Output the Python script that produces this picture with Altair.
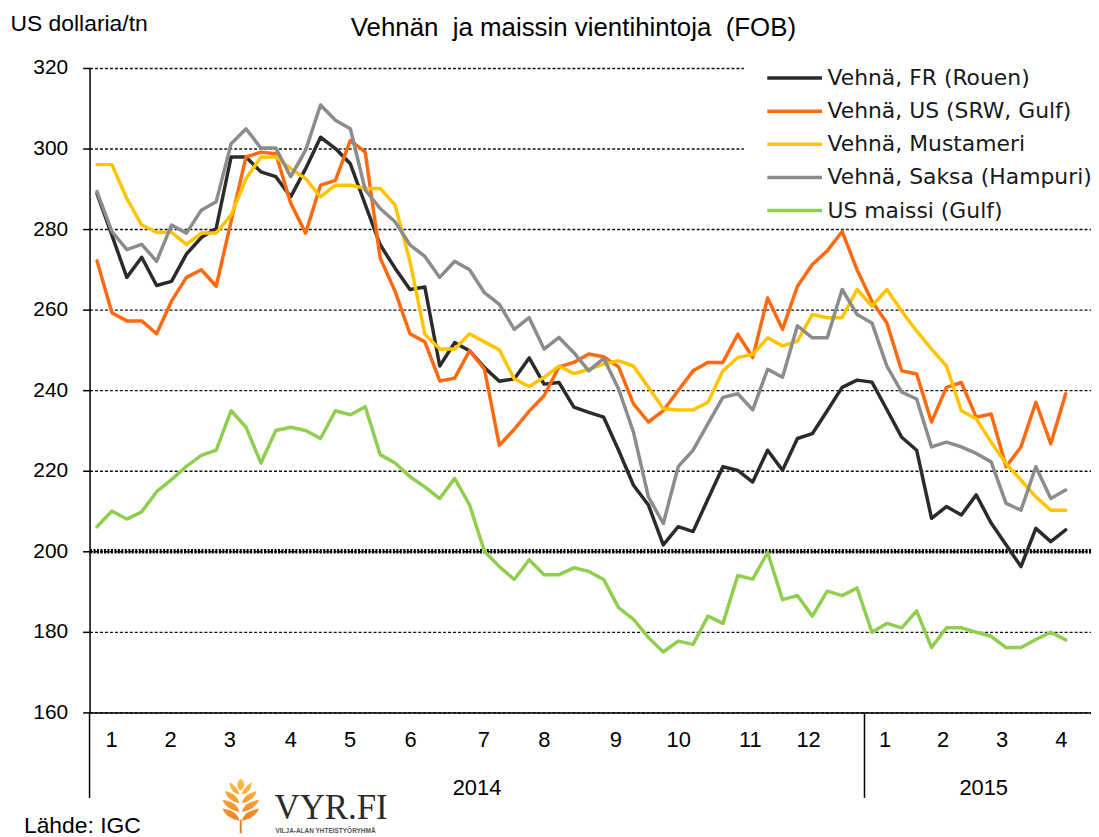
import altair as alt
import pandas as pd

# ---------------- data (weekly, Jan 2014 - Apr 2015) ----------------
weeks = list(range(66))

fr_rouen = [288.8, 278.5, 268.0, 273.0, 266.0, 267.0, 273.8, 277.9, 280.2, 297.9,
            297.9, 294.2, 293.0, 288.0, 295.0, 302.8, 300.0, 296.2, 286.1, 276.1,
            270.3, 265.0, 265.6, 246.0, 251.8, 249.8, 245.6, 242.2, 242.8, 248.0,
            241.5, 241.9, 235.8, 234.5, 233.3, 225.1, 216.4, 211.5, 201.6, 206.1,
            204.9, 213.0, 221.0, 220.1, 217.2, 225.1, 220.1, 228.0, 229.2, 234.9,
            240.7, 242.5, 242.0, 235.2, 228.3, 225.1, 208.2, 211.1, 209.0, 214.0,
            207.0, 201.6, 196.2, 205.7, 202.4, 205.3]
us_srw = [272.1, 259.2, 257.2, 257.2, 254.0, 262.1, 268.0, 269.9, 265.8, 282.0,
          297.9, 299.1, 298.7, 286.4, 279.0, 290.9, 292.1, 302.0, 299.1, 272.8,
          264.6, 254.0, 252.0, 242.3, 243.0, 249.8, 245.2, 226.3, 230.3, 234.8,
          238.6, 245.8, 246.9, 249.0, 248.3, 245.8, 236.6, 232.1, 234.9, 239.9,
          244.8, 246.9, 246.9, 253.9, 248.1, 262.9, 255.1, 265.8, 271.2, 274.6,
          279.4, 269.9, 262.1, 256.7, 244.8, 244.0, 232.1, 240.7, 241.9, 233.3,
          234.1, 221.0, 225.9, 237.0, 226.7, 239.1]
mustameri = [296.0, 296.0, 287.6, 281.0, 279.2, 279.2, 276.2, 279.0, 279.0, 283.5,
             292.5, 297.9, 297.9, 295.0, 292.5, 288.0, 290.9, 290.9, 290.1, 290.1,
             286.0, 272.0, 253.9, 250.2, 250.2, 254.0, 252.0, 250.0, 242.8, 240.9,
             243.2, 246.0, 244.1, 245.2, 246.5, 247.3, 246.0, 240.7, 235.4, 235.1,
             235.1, 237.0, 244.8, 248.1, 248.9, 253.0, 251.0, 252.2, 258.8, 258.0,
             258.0, 265.0, 260.9, 265.0, 259.6, 254.7, 250.2, 246.0, 234.9, 232.9,
             227.1, 221.8, 217.7, 213.5, 210.2, 210.2]
saksa = [289.3, 279.4, 274.9, 276.2, 272.0, 281.0, 279.0, 284.7, 286.8, 301.2,
         304.9, 300.1, 300.1, 293.0, 299.6, 310.8, 307.0, 304.9, 289.7, 285.1,
         281.8, 276.1, 273.2, 268.0, 272.0, 269.9, 264.2, 261.3, 255.1, 258.0,
         250.2, 253.1, 249.3, 244.8, 247.9, 240.3, 229.6, 213.5, 206.9, 221.0,
         225.1, 231.7, 238.2, 239.1, 235.1, 245.2, 243.2, 256.0, 253.0, 253.0,
         265.0, 258.8, 256.7, 246.0, 239.5, 237.8, 225.9, 227.1, 225.9, 224.3,
         222.2, 211.9, 210.2, 221.0, 213.1, 215.2]
us_maissi = [206.1, 210.0, 208.0, 209.8, 214.8, 217.8, 221.1, 223.8, 225.1, 234.9,
             230.8, 221.9, 230.0, 230.8, 230.0, 228.0, 234.9, 233.9, 235.9, 224.0,
             221.9, 218.5, 216.0, 213.1, 218.1, 211.5, 200.0, 196.2, 193.0, 197.9,
             194.2, 194.2, 195.9, 195.0, 193.0, 186.0, 183.1, 178.6, 175.0, 177.7,
             176.9, 183.9, 182.1, 194.0, 193.1, 199.7, 188.0, 189.0, 183.9, 190.1,
             189.0, 190.9, 179.9, 182.1, 181.0, 185.2, 176.1, 181.0, 181.0, 179.9,
             178.9, 176.1, 176.1, 178.1, 179.9, 178.0]

series_names = ["Vehnä, FR (Rouen)", "Vehnä, US (SRW, Gulf)", "Vehnä, Mustameri",
                "Vehnä, Saksa (Hampuri)", "US maissi (Gulf)"]
series_colors = ["#2b2b2b", "#ff6a10", "#ffc400", "#8c8c8c", "#8fce4e"]

y_ticks = [160, 180, 200, 220, 240, 260, 280, 300, 320]
month_labels = ["1", "2", "3", "4", "5", "6", "7", "8", "9", "10", "11", "12",
                "1", "2", "3", "4"]
month_week = [0.97, 4.93, 8.91, 13.01, 16.98, 21.05, 25.95, 30.01, 34.82, 39.03,
              43.84, 47.75, 52.89, 56.77, 60.74, 64.71]
year_labels = ["2014", "2015"]
year_start = [-0.5, 51.5]
year_end = [51.5, 67.5]
ref_level = [200]

title_text = "Vehnän\u00a0 ja maissin vientihintoja\u00a0 (FOB)"
y_title = "US dollaria/tn"
source_text = "Lähde: IGC"

# ---------------- tables ----------------
rows = []
for name, vals in zip(series_names, [fr_rouen, us_srw, mustameri, saksa, us_maissi]):
    for w, v in zip(weeks, vals):
        rows.append({"week": w, "series": name, "value": v})
df = pd.DataFrame(rows)
df_months = pd.DataFrame({"pos": month_week, "label": month_labels})
df_years = pd.DataFrame({"label": year_labels, "start": year_start, "end": year_end})
df_ref = pd.DataFrame({"v": ref_level})

FONT = "Liberation Sans"
x_scale = alt.Scale(domain=[-0.5, 66.7], nice=False, zero=False)
y_scale = alt.Scale(domain=[160, 320], nice=False, zero=False)

x_axis = alt.Axis(title=None, labels=False, ticks=False, grid=False,
                  domainColor="black", domainWidth=1.5)
y_axis = alt.Axis(values=y_ticks, title=y_title, titleAngle=0, titleX=-80, titleY=-37.5,
                  titleAlign="left", titleBaseline="alphabetic", titleFontSize=23,
                  titleFontWeight="normal", titleColor="black",
                  labelFontSize=21, labelPadding=15, labelColor="black",
                  tickSize=7, tickColor="black", tickWidth=1.5,
                  domainColor="black", domainWidth=1.5,
                  grid=True, gridDash=[3, 2], gridColor="#111111", gridWidth=1.4)

ref_rule = alt.Chart(df_ref).mark_rule(color="black", strokeWidth=4.5, strokeDash=[2, 1.5]).encode(
    y=alt.Y("v:Q", scale=y_scale, axis=y_axis, title=y_title)
)

lines = alt.Chart(df).mark_line(strokeWidth=3.5, strokeJoin="round", strokeCap="round").encode(
    x=alt.X("week:Q", scale=x_scale, axis=x_axis),
    y=alt.Y("value:Q", scale=y_scale, axis=y_axis, title=y_title),
    color=alt.Color("series:N", sort=series_names,
                    scale=alt.Scale(domain=series_names, range=series_colors),
                    legend=alt.Legend(title=None, orient="none", legendX=658, legendY=-4.8,
                                      padding=4, fillColor="white",
                                      symbolType="M-5,0H5", symbolSize=121,
                                      symbolStrokeWidth=3.5, symbolOffset=36,
                                      labelOffset=22, labelFontSize=22,
                                      labelFont="DejaVu Sans", labelColor="#1a1a1a",
                                      labelLimit=400, rowPadding=11.3)),
)

months = alt.Chart(df_months).mark_text(fontSize=22, align="center", baseline="alphabetic",
                                         color="black").encode(
    x=alt.X("pos:Q", scale=x_scale, axis=x_axis), y=alt.value(683), text="label:N"
)

years = alt.Chart(df_years).transform_calculate(
    mid="(datum.start + datum.end) / 2"
).mark_text(fontSize=22, align="center", baseline="alphabetic", color="black").encode(
    x=alt.X("mid:Q", scale=x_scale, axis=x_axis), y=alt.value(731), text="label:N"
)

seps = alt.Chart(df_years).mark_rule(color="black", strokeWidth=1.5).encode(
    x=alt.X("start:Q", scale=x_scale, axis=x_axis), y=alt.value(648), y2=alt.value(734)
)

title = alt.Chart(pd.DataFrame({"t": [title_text]})).mark_text(
    fontSize=26, align="center", baseline="alphabetic", color="black"
).encode(x=alt.value(486.5), y=alt.value(-32), text="t:N")

source = alt.Chart(pd.DataFrame({"t": [source_text]})).mark_text(
    fontSize=23, align="left", baseline="alphabetic", color="black"
).encode(x=alt.value(-66), y=alt.value(769), text="t:N")

logo = alt.Chart(pd.DataFrame({"t": ["VYR.FI"]})).mark_text(
    fontSize=35, font="Liberation Serif", align="left", baseline="alphabetic", color="#2b2b2b"
).encode(x=alt.value(186), y=alt.value(755), text="t:N")

logo_sub = alt.Chart(pd.DataFrame({"t": ["VILJA-ALAN YHTEISTYÖRYHMÄ"]})).mark_text(
    fontSize=6.5, fontWeight="bold", align="left", baseline="alphabetic", color="#555555"
).encode(x=alt.value(187), y=alt.value(769), text="t:N")

# wheat-ear emblem as one custom symbol path
parts = ["M0,-1C0.17,-0.86 0.17,-0.66 0,-0.56C-0.17,-0.66 -0.17,-0.86 0,-1Z"]
for b, tx in [(-0.42, 0.42), (-0.1, 0.58), (0.22, 0.66), (0.54, 0.66)]:
    for s in (1, -1):
        parts.append(
            f"M{0.05*s},{b}C{0.1*s},{b-0.25} {0.3*s},{b-0.38} {tx*s},{b-0.44}"
            f"C{(tx-0.05)*s},{b-0.2} {0.3*s},{b-0.03} {0.05*s},{b}Z"
        )
parts.append("M-0.035,0.5L0.035,0.5L0.035,1L-0.035,1Z")
wheat_path = "".join(parts)
wheat_fill = alt.LinearGradient(
    gradient="linear",
    stops=[alt.GradientStop(offset=0, color="#fdc24c"), alt.GradientStop(offset=1, color="#e8701b")],
    x1=0, x2=0, y1=0, y2=1,
)
wheat = alt.Chart(pd.DataFrame({"t": ["logo"]})).mark_point(
    shape=wheat_path, size=3025, filled=True, fill=wheat_fill, strokeWidth=0, opacity=1
).encode(x=alt.value(152), y=alt.value(742))

chart = alt.layer(
    ref_rule, lines, months, years, seps, title, source, logo, logo_sub, wheat
).properties(
    width=1007, height=648,
    padding={"left": 82, "top": 58, "right": 0, "bottom": 123},
    autosize=alt.AutoSizeParams(type="none"),
).configure(font=FONT).configure_view(stroke=None)

chart.save("out.html", embed_options={"renderer": "svg", "actions": False})
